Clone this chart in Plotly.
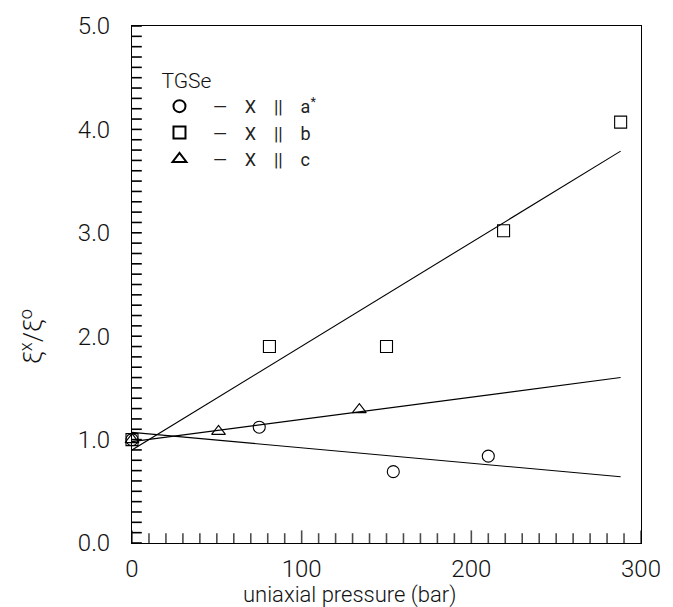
import plotly.graph_objects as go

# ---- data ----
a_x = [0, 75, 154, 210]
a_y = [1.0, 1.12, 0.69, 0.84]
b_x = [0, 81, 150, 219, 288]
b_y = [1.0, 1.90, 1.90, 3.02, 4.07]
c_x = [0, 51, 134]
c_y = [1.0, 1.08, 1.29]

fit_x = [0, 288]
fit_a = [1.07, 0.64]
fit_b = [0.90, 3.79]
fit_c = [0.98, 1.60]

names = ["a<sup>*</sup>", "b", "c"]

# axis tick positions (minor every 10 bar / every 0.1)
x_tick_pos = list(range(0, 301, 10))
y_tick_pos = [v / 10 for v in range(0, 51)]

FONT = "Roboto"
TXT = "#111111"
fig = go.Figure()

# inward tick marks drawn through the axes' own scales
fig.add_trace(go.Scatter(
    x=x_tick_pos, y=[0] * len(x_tick_pos), mode="markers", cliponaxis=True,
    marker=dict(symbol="line-ns-open",
                size=[18 if v % 100 == 0 else 14 for v in x_tick_pos],
                color="black", line=dict(color="black", width=1.6)),
    showlegend=False, hoverinfo="skip"))
fig.add_trace(go.Scatter(
    x=[0] * len(y_tick_pos), y=y_tick_pos, mode="markers", cliponaxis=True,
    marker=dict(symbol="line-ew-open", size=14,
                color="black", line=dict(color="black", width=1.6)),
    showlegend=False, hoverinfo="skip"))

for fy in (fit_a, fit_b, fit_c):
    fig.add_trace(go.Scatter(x=fit_x, y=fy, mode="lines",
                             line=dict(color="black", width=1.1),
                             showlegend=False, hoverinfo="skip"))

symbols = ["circle-open", "square-open", "triangle-up-open"]
for xs, ys, sym, nm in zip((a_x, b_x, c_x), (a_y, b_y, c_y), symbols, names):
    label = "\u00a0\u00a0\u00a0—\u00a0\u00a0\u00a0\u00a0X\u00a0\u00a0\u00a0\u00a0||\u00a0\u00a0\u00a0\u00a0" + nm
    fig.add_trace(go.Scatter(x=xs, y=ys, mode="markers", name=label, cliponaxis=False,
                             marker=dict(symbol=sym, size=12, color="black",
                                         line=dict(color="black", width=1.1))))

axis_font = dict(size=24, family=FONT, color=TXT, weight=300)

fig.update_layout(
    width=673, height=607,
    margin=dict(l=132, r=24, t=19, b=64),
    plot_bgcolor="white", paper_bgcolor="white",
    font=dict(family=FONT, color=TXT, size=20),
    legend=dict(
        x=0.054, y=0.933, xanchor="left", yanchor="top",
        bgcolor="rgba(0,0,0,0)", borderwidth=0,
        font=dict(size=18, family=FONT, color="#222222"),
        title=dict(text="TGSe", font=dict(size=21, family=FONT, color=TXT, weight=300)),
        itemsizing="constant", tracegroupgap=0,
    ),
    xaxis=dict(
        range=[0, 300], tickmode="linear", tick0=0, dtick=100,
        ticks="", showline=True, linecolor="black", linewidth=1, mirror=True,
        showgrid=False, zeroline=False, ticklabelstandoff=4,
        tickfont=axis_font,
    ),
    yaxis=dict(
        range=[0, 5], tickmode="linear", tick0=0, dtick=1, tickformat=".1f",
        ticks="", showline=True, linecolor="black", linewidth=1, mirror=True,
        showgrid=False, zeroline=False, ticklabelstandoff=16,
        tickfont=axis_font,
    ),
    annotations=[
        dict(text="uniaxial pressure (bar)", xref="paper", yref="paper",
             x=0.427, y=-0.101, xanchor="center", yanchor="middle", showarrow=False,
             font=dict(size=22, family=FONT, color=TXT, weight=300)),
        dict(text="ξ<sup>x</sup>/ξ<sup>o</sup>", xref="paper", yref="paper",
             x=-0.197, y=0.40, xanchor="center", yanchor="middle", showarrow=False,
             textangle=-90,
             font=dict(size=26, family=FONT, color=TXT, weight=300)),
    ],
)

fig.write_html("out.html")
